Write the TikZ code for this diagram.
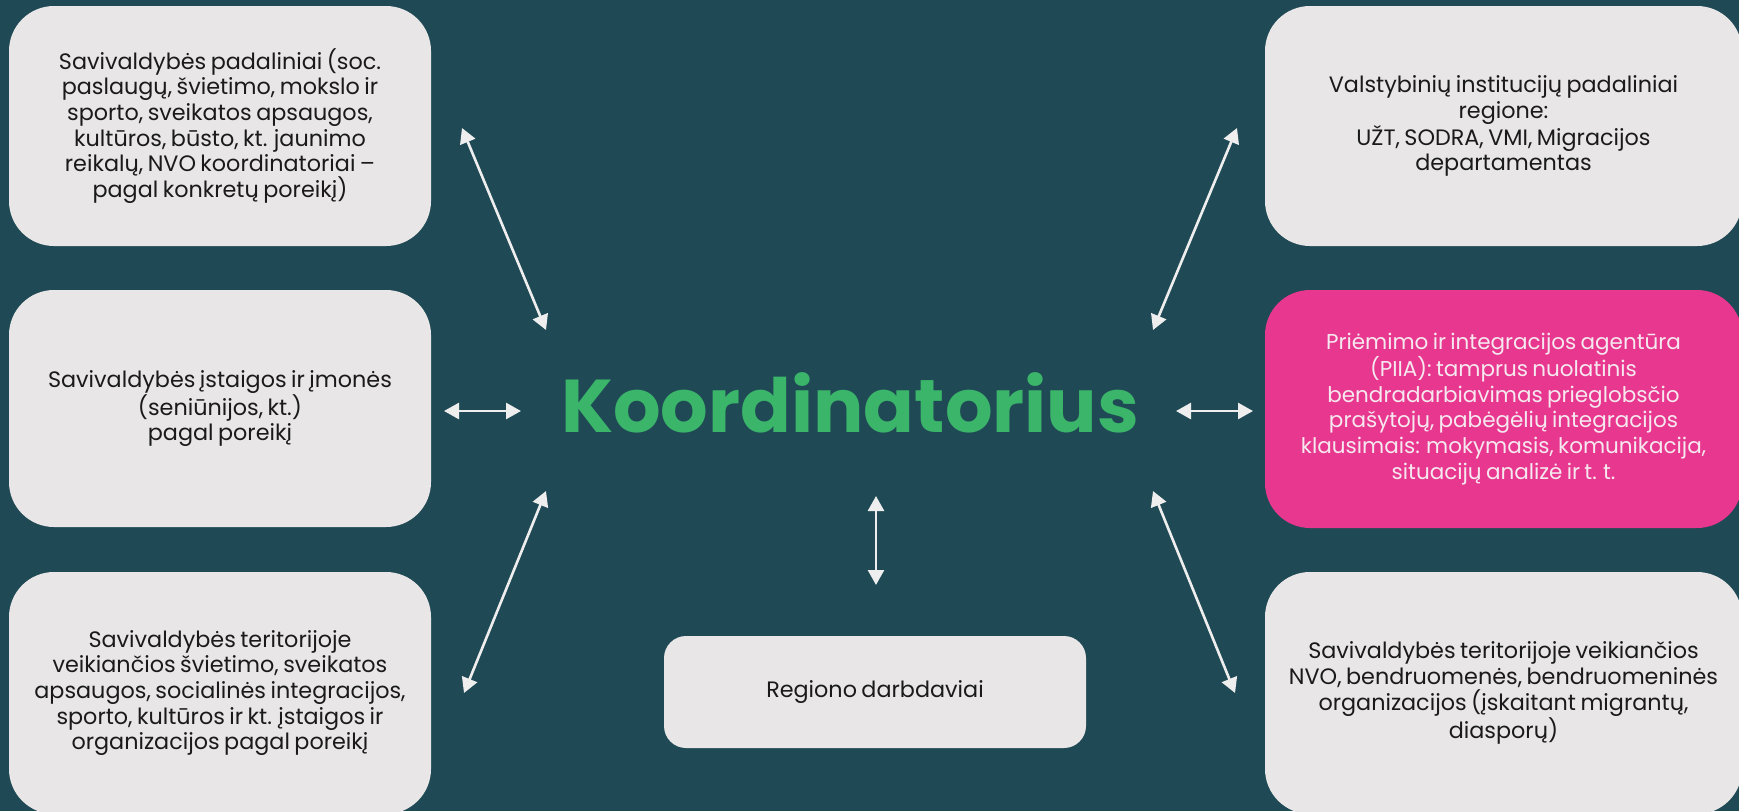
\documentclass[tikz,border=0pt]{standalone}
\usepackage{fontspec}
\setmainfont{Poppins}[WordSpace=0.75]
\usetikzlibrary{arrows.meta}
\definecolor{bg}{HTML}{1F4A55}
\definecolor{boxgray}{HTML}{E8E6E7}
\definecolor{pinkbox}{HTML}{E8378F}
\definecolor{kgreen}{HTML}{3BB56A}
\definecolor{arrowc}{HTML}{EEEEEE}
\definecolor{txt}{HTML}{1A1A1A}
\definecolor{pinktxt}{HTML}{F6E8EF}
\begin{document}
\begin{tikzpicture}[x=1pt,y=-1pt,
  box/.style={draw=none, fill=boxgray, rounded corners=45pt, text=txt, align=center,
    font=\fontsize{22.3}{25.7}\selectfont, inner sep=0pt},
  biarrow/.style={draw=arrowc, line width=2.6pt,
    {Triangle[length=15pt,width=16pt]}-{Triangle[length=15pt,width=16pt]}}]
\useasboundingbox (0,0) rectangle (1739,811);
\fill[bg] (0,0) rectangle (1739,811);

\node[box, minimum width=422pt, minimum height=240pt] (tl) at (220,126)
  {Savivaldybės padaliniai (soc.\\ paslaugų, švietimo, mokslo ir\\ sporto, sveikatos apsaugos,\\ kultūros, būsto, kt. jaunimo\\ reikalų, NVO koordinatoriai –\\ pagal konkretų poreikį)};
\node[box, minimum width=422pt, minimum height=237pt] (ml) at (220,408.5)
  {Savivaldybės įstaigos ir įmonės\\ (seniūnijos, kt.)\\ pagal poreikį};
\node[box, minimum width=422pt, minimum height=242pt] (bl) at (220,693)
  {Savivaldybės teritorijoje\\ veikiančios švietimo, sveikatos\\ apsaugos, socialinės integracijos,\\ sporto, kultūros ir kt. įstaigos ir\\ organizacijos pagal poreikį};
\node[box, minimum width=477pt, minimum height=240pt] (tr) at (1503.5,126)
  {Valstybinių institucijų padaliniai\\ regione:\\ UŽT, SODRA, VMI, Migracijos\\ departamentas};
\node[box, fill=pinkbox, text=pinktxt, minimum width=477pt, minimum height=238pt,
  font=\fontsize{21.5}{25.7}\selectfont] (mr) at (1503.5,409)
  {Priėmimo ir integracijos agentūra\\ (PIIA): tamprus nuolatinis\\ bendradarbiavimas prieglobsčio\\ prašytojų, pabėgėlių integracijos\\ klausimais: mokymasis, komunikacija,\\ situacijų analizė ir t. t.};
\node[box, minimum width=477pt, minimum height=242pt] (br) at (1503.5,693)
  {Savivaldybės teritorijoje veikiančios\\ NVO, bendruomenės, bendruomeninės\\ organizacijos (įskaitant migrantų,\\ diasporų)};
\node[box, rounded corners=22pt, minimum width=422pt, minimum height=112pt] (bm) at (875,692)
  {Regiono darbdaviai};

\node[anchor=base, text=kgreen, inner sep=0pt, font=\fontsize{74.8}{80}\selectfont\bfseries] (k) at (850,432) {Koordinatorius};

\coordinate (a1s) at (462,128);  \coordinate (a1e) at (546,330);
\coordinate (a2s) at (444,411);  \coordinate (a2e) at (521,411);
\coordinate (a3s) at (546,491);  \coordinate (a3e) at (464,693);
\coordinate (a4s) at (1237,128); \coordinate (a4e) at (1153,330);
\coordinate (a5s) at (1176,411); \coordinate (a5e) at (1253,411);
\coordinate (a6s) at (1153,491); \coordinate (a6e) at (1235,693);
\coordinate (a7s) at (876,496);  \coordinate (a7e) at (876,585);

\draw[biarrow] (a1s) -- (a1e);
\draw[biarrow] (a2s) -- (a2e);
\draw[biarrow] (a3s) -- (a3e);
\draw[biarrow] (a4s) -- (a4e);
\draw[biarrow] (a5s) -- (a5e);
\draw[biarrow] (a6s) -- (a6e);
\draw[biarrow] (a7s) -- (a7e);
\end{tikzpicture}
\end{document}
